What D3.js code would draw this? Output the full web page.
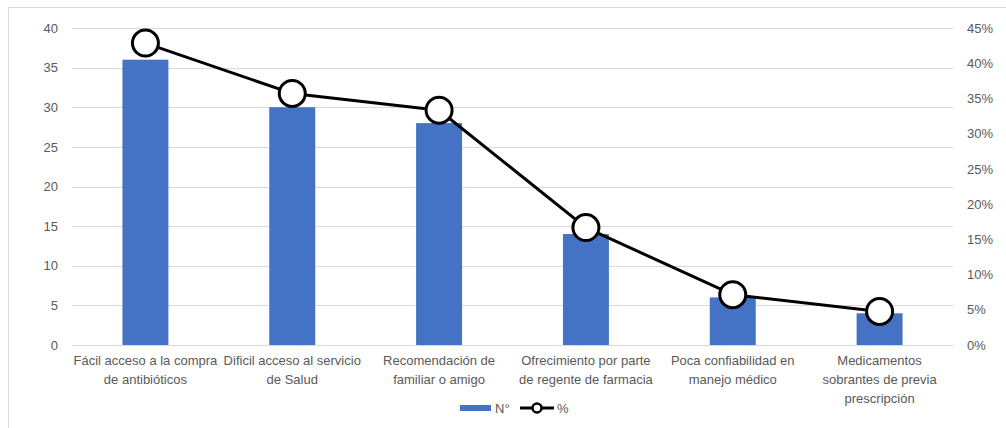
<!DOCTYPE html>
<html>
<head>
<meta charset="utf-8">
<script src="https://cdn.jsdelivr.net/npm/d3@7"></script>
<style>
  html, body { margin: 0; padding: 0; background: #fff; }
  svg { display: block; }
  text { font-family: "Liberation Sans", "DejaVu Sans", sans-serif; fill: #595959; }
</style>
</head>
<body>
<svg id="chart" width="1006" height="428"></svg>
<script>
// Motivos de automedicación con antibióticos
const categories = [
  "Fácil acceso a la compra\nde antibióticos",
  "Dificil acceso al servicio\nde Salud",
  "Recomendación de\nfamiliar o amigo",
  "Ofrecimiento por parte\nde regente de farmacia",
  "Poca confiabilidad en\nmanejo médico",
  "Medicamentos\nsobrantes de previa\nprescripción"
];
const counts = [36, 30, 28, 14, 6, 4];
const percents = [42.86, 35.71, 33.33, 16.67, 7.14, 4.76];
const leftTicks = [0, 5, 10, 15, 20, 25, 30, 35, 40];
const rightTicks = [0, 5, 10, 15, 20, 25, 30, 35, 40, 45];
const legendLabels = ["N°", "%"];

const svg = d3.select("#chart");
const W = 1006, H = 428;
const plot = { left: 72, right: 953, top: 28, bottom: 345 };

// outer chart frame
svg.append("rect")
  .attr("x", 8.5).attr("y", 7.5)
  .attr("width", W + 10).attr("height", H + 10)
  .attr("fill", "#fff").attr("stroke", "#d9d9d9").attr("stroke-width", 1);

const x = d3.scaleBand().domain(categories).range([plot.left, plot.right]).padding(0);
const yL = d3.scaleLinear().domain([0, 40]).range([plot.bottom, plot.top]);
const yR = d3.scaleLinear().domain([0, 45]).range([plot.bottom, plot.top]);

// gridlines
svg.append("g").selectAll("line").data(leftTicks.slice(1)).join("line")
  .attr("x1", plot.left).attr("x2", plot.right)
  .attr("y1", d => Math.round(yL(d)) + 0.5).attr("y2", d => Math.round(yL(d)) + 0.5)
  .attr("stroke", "#d9d9d9").attr("stroke-width", 1);

// left axis
const axL = svg.append("g").attr("transform", `translate(${plot.left},0)`)
  .call(d3.axisLeft(yL).tickValues(leftTicks).tickSize(0).tickPadding(14));
axL.select(".domain").remove();
axL.selectAll("text").style("font-size", "13px").attr("fill", "#595959");

// right axis
const axR = svg.append("g").attr("transform", `translate(${plot.right},0)`)
  .call(d3.axisRight(yR).tickValues(rightTicks).tickSize(0).tickPadding(14).tickFormat(d => d + "%"));
axR.select(".domain").remove();
axR.selectAll("text").style("font-size", "13px").attr("fill", "#595959");

// bars
const barW = x.bandwidth() * 0.313;
svg.append("g").selectAll("rect").data(counts).join("rect")
  .attr("x", (d, i) => x(categories[i]) + x.bandwidth() / 2 - barW / 2)
  .attr("y", d => yL(d))
  .attr("width", barW)
  .attr("height", d => yL(0) - yL(d))
  .attr("fill", "#4472C4");

// baseline
svg.append("line")
  .attr("x1", plot.left).attr("x2", plot.right)
  .attr("y1", plot.bottom + 0.5).attr("y2", plot.bottom + 0.5)
  .attr("stroke", "#d9d9d9").attr("stroke-width", 1);

// category labels
const labels = svg.append("g").selectAll("text").data(categories).join("text")
  .attr("text-anchor", "middle")
  .style("font-size", "13px")
  .attr("x", d => x(d) + x.bandwidth() / 2)
  .attr("y", 365);
labels.each(function (d) {
  const t = d3.select(this);
  d.split("\n").forEach((ln, k) => {
    t.append("tspan").attr("x", x(d) + x.bandwidth() / 2).attr("dy", k === 0 ? 0 : 19).text(ln);
  });
});

// percentage line
const cx = (d, i) => x(categories[i]) + x.bandwidth() / 2;
const line = d3.line().x(cx).y(d => yR(d));
svg.append("path").datum(percents)
  .attr("d", line).attr("fill", "none")
  .attr("stroke", "#000").attr("stroke-width", 3).attr("stroke-linejoin", "round");
svg.append("g").selectAll("circle").data(percents).join("circle")
  .attr("cx", cx).attr("cy", d => yR(d)).attr("r", 13)
  .attr("fill", "#fff").attr("stroke", "#000").attr("stroke-width", 3);

// legend
const lg = svg.append("g");
lg.append("rect").attr("x", 460).attr("y", 405).attr("width", 31).attr("height", 6).attr("fill", "#4472C4");
lg.append("text").attr("x", 495).attr("y", 413).style("font-size", "13px").text(legendLabels[0]);
lg.append("line").attr("x1", 520).attr("x2", 554).attr("y1", 408).attr("y2", 408)
  .attr("stroke", "#000").attr("stroke-width", 3);
lg.append("circle").attr("cx", 537).attr("cy", 408).attr("r", 4.5)
  .attr("fill", "#fff").attr("stroke", "#000").attr("stroke-width", 2.5);
lg.append("text").attr("x", 557).attr("y", 413).style("font-size", "13px").text(legendLabels[1]);
</script>
</body>
</html>
